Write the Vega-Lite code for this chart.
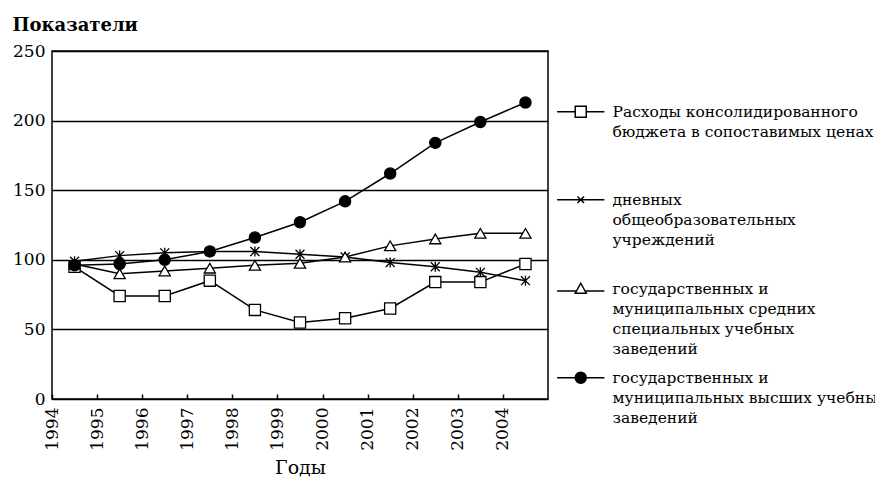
{
  "$schema": "https://vega.github.io/schema/vega-lite/v6.json",
  "width": 496,
  "height": 348,
  "autosize": "none",
  "padding": {"left": 52, "top": 51, "right": 327, "bottom": 80},
  "background": "white",
  "config": {
    "font": "DejaVu Serif",
    "view": {"stroke": "black", "strokeWidth": 1.5},
    "axis": {"labelFont": "DejaVu Serif", "titleFont": "DejaVu Serif", "labelColor": "black", "titleColor": "black", "domain": false},
    "legend": {
      "title": null,
      "orient": "none",
      "legendX": 521,
      "legendY": 53,
      "padding": 0,
      "symbolSize": 121,
      "symbolOpacity": 1,
      "symbolStrokeColor": "black",
      "symbolStrokeWidth": 1.5,
      "labelFont": "DejaVu Serif",
      "labelFontSize": 15.5,
      "labelColor": "black",
      "labelBaseline": "middle",
      "labelLimit": 400,
      "labelOffset": 24,
      "rowPadding": 11
    }
  },
  "data": {
    "values": [
      {"series": "A", "year": 1994.5, "value": 95},
      {"series": "A", "year": 1995.5, "value": 74},
      {"series": "A", "year": 1996.5, "value": 74},
      {"series": "A", "year": 1997.5, "value": 85},
      {"series": "A", "year": 1998.5, "value": 64},
      {"series": "A", "year": 1999.5, "value": 55},
      {"series": "A", "year": 2000.5, "value": 58},
      {"series": "A", "year": 2001.5, "value": 65},
      {"series": "A", "year": 2002.5, "value": 84},
      {"series": "A", "year": 2003.5, "value": 84},
      {"series": "A", "year": 2004.5, "value": 97},
      {"series": "B", "year": 1994.5, "value": 99},
      {"series": "B", "year": 1995.5, "value": 103},
      {"series": "B", "year": 1996.5, "value": 105},
      {"series": "B", "year": 1997.5, "value": 106},
      {"series": "B", "year": 1998.5, "value": 106},
      {"series": "B", "year": 1999.5, "value": 104},
      {"series": "B", "year": 2000.5, "value": 102},
      {"series": "B", "year": 2001.5, "value": 98},
      {"series": "B", "year": 2002.5, "value": 95},
      {"series": "B", "year": 2003.5, "value": 91},
      {"series": "B", "year": 2004.5, "value": 85},
      {"series": "C", "year": 1994.5, "value": 97},
      {"series": "C", "year": 1995.5, "value": 90},
      {"series": "C", "year": 1996.5, "value": 92},
      {"series": "C", "year": 1997.5, "value": 94},
      {"series": "C", "year": 1998.5, "value": 96},
      {"series": "C", "year": 1999.5, "value": 97.5},
      {"series": "C", "year": 2000.5, "value": 102},
      {"series": "C", "year": 2001.5, "value": 110},
      {"series": "C", "year": 2002.5, "value": 115},
      {"series": "C", "year": 2003.5, "value": 119},
      {"series": "C", "year": 2004.5, "value": 119},
      {"series": "D", "year": 1994.5, "value": 96},
      {"series": "D", "year": 1995.5, "value": 97},
      {"series": "D", "year": 1996.5, "value": 100},
      {"series": "D", "year": 1997.5, "value": 106},
      {"series": "D", "year": 1998.5, "value": 116},
      {"series": "D", "year": 1999.5, "value": 127},
      {"series": "D", "year": 2000.5, "value": 142},
      {"series": "D", "year": 2001.5, "value": 162},
      {"series": "D", "year": 2002.5, "value": 184},
      {"series": "D", "year": 2003.5, "value": 199},
      {"series": "D", "year": 2004.5, "value": 213}
    ]
  },
  "encoding": {
    "x": {
      "field": "year",
      "type": "quantitative",
      "scale": {"domain": [1994, 2005], "nice": false, "zero": false},
      "axis": {
        "values": [1994, 1995, 1996, 1997, 1998, 1999, 2000, 2001, 2002, 2003, 2004],
        "format": "d",
        "labelAngle": -90,
        "labelFlush": false,
        "labelOverlap": false,
        "grid": false,
        "ticks": true,
        "tickSize": -5,
        "tickColor": "black",
        "tickWidth": 1.5,
        "labelPadding": 13,
        "labelFontSize": 17,
        "title": "Годы",
        "titleFontSize": 19,
        "titleFontWeight": "normal",
        "titlePadding": 8
      }
    },
    "y": {
      "field": "value",
      "type": "quantitative",
      "scale": {"domain": [0, 250], "nice": false},
      "axis": {
        "values": [0, 50, 100, 150, 200, 250],
        "ticks": false,
        "gridColor": "black",
        "gridWidth": 1.5,
        "gridOpacity": 1,
        "labelFontSize": 17,
        "labelPadding": 7,
        "title": "Показатели",
        "titleAngle": 0,
        "titleAlign": "left",
        "titleBaseline": "alphabetic",
        "titleX": -40,
        "titleY": -21,
        "titleFontSize": 18,
        "titleFontWeight": "bold"
      }
    }
  },
  "layer": [
    {
      "mark": {"type": "line", "color": "black", "strokeWidth": 1.5},
      "encoding": {"detail": {"field": "series"}}
    },
    {
      "mark": {"type": "point", "filled": true, "stroke": "black", "strokeWidth": 1.3, "opacity": 1, "size": 125},
      "encoding": {
        "fill": {
          "field": "series",
          "type": "nominal",
          "scale": {"domain": ["A", "B", "C", "D"], "range": ["white", "transparent", "white", "black"]},
          "legend": null
        },
        "shape": {
          "field": "series",
          "type": "nominal",
          "scale": {"domain": ["A", "B", "C", "D"], "range": ["square", "M-0.8,-0.8L0.8,0.8M-0.8,0.8L0.8,-0.8M0,-0.9L0,0.9", "triangle-up", "circle"]},
          "legend": null
        }
      }
    },
    {
      "transform": [{"filter": "datum.value < 0"}],
      "mark": {"type": "point", "filled": true, "strokeWidth": 1.5, "opacity": 1, "size": 121},
      "encoding": {
        "fill": {
          "field": "series",
          "type": "nominal",
          "scale": {"domain": ["A", "B", "C", "D"], "range": ["white", "transparent", "white", "black"]},
          "legend": {
            "labelExpr": "datum.value == 'A' ? ['Расходы консолидированного', 'бюджета в сопоставимых ценах', '', ''] : datum.value == 'B' ? ['дневных', 'общеобразовательных', 'учреждений', ''] : datum.value == 'C' ? ['государственных и', 'муниципальных средних', 'специальных учебных', 'заведений'] : ['государственных и', 'муниципальных высших учебных', 'заведений']",
            "encode": {"labels": {"update": {"lineHeight": {"value": 20}}}}
          }
        },
        "stroke": {
          "field": "series",
          "type": "nominal",
          "scale": {"domain": ["A", "B", "C", "D"], "range": ["black", "black", "black", "black"]},
          "legend": {
            "labelExpr": "datum.value == 'A' ? ['Расходы консолидированного', 'бюджета в сопоставимых ценах', '', ''] : datum.value == 'B' ? ['дневных', 'общеобразовательных', 'учреждений', ''] : datum.value == 'C' ? ['государственных и', 'муниципальных средних', 'специальных учебных', 'заведений'] : ['государственных и', 'муниципальных высших учебных', 'заведений']",
            "encode": {"labels": {"update": {"lineHeight": {"value": 20}}}}
          }
        },
        "shape": {
          "field": "series",
          "type": "nominal",
          "scale": {"domain": ["A", "B", "C", "D"], "range": ["M-4.3,0H-1M1,0H4.3M-1,-1H1V1H-1Z", "M-4.3,0H4.3M-0.6,-0.6L0.6,0.6M-0.6,0.6L0.6,-0.6", "M-4.3,0.4H-0.78M0.78,0.4H4.3M0,-1L1,0.8H-1Z", "M-4.3,0H4.3M-1,0A1,1 0 1,0 1,0A1,1 0 1,0 -1,0Z"]},
          "legend": {
            "labelExpr": "datum.value == 'A' ? ['Расходы консолидированного', 'бюджета в сопоставимых ценах', '', ''] : datum.value == 'B' ? ['дневных', 'общеобразовательных', 'учреждений', ''] : datum.value == 'C' ? ['государственных и', 'муниципальных средних', 'специальных учебных', 'заведений'] : ['государственных и', 'муниципальных высших учебных', 'заведений']",
            "encode": {"labels": {"update": {"lineHeight": {"value": 20}}}}
          }
        }
      }
    }
  ],
  "resolve": {"scale": {"shape": "independent", "fill": "independent", "stroke": "independent"}}
}
